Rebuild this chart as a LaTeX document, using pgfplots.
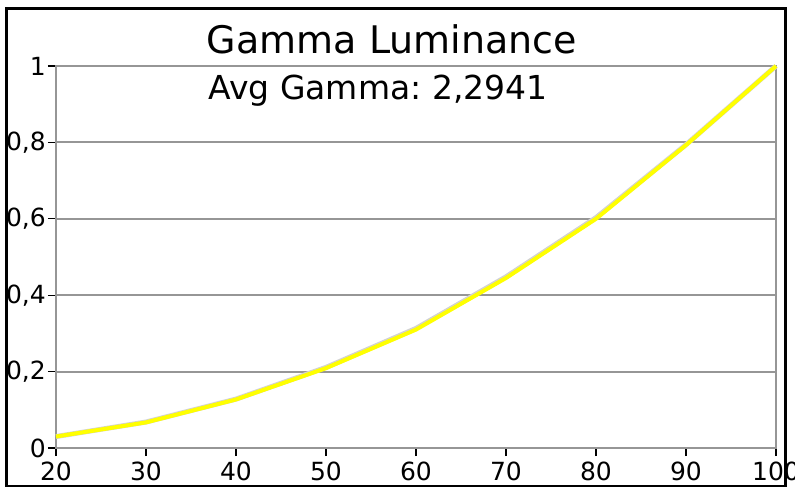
\documentclass[border=0pt]{standalone}
\usepackage{pgfplots}
\pgfplotsset{compat=1.18}
\usepackage{fontspec}
\setmainfont{DejaVu Sans}
\frenchspacing
\definecolor{axgray}{RGB}{150,150,150}
\definecolor{refgray}{RGB}{210,210,210}
\definecolor{lumyellow}{RGB}{255,255,0}

\begin{document}
\begin{tikzpicture}
\path[use as bounding box] (-56bp,-39bp) rectangle (739bp,448bp);
\begin{axis}[
  scale only axis,
  width=720bp, height=382bp,
  xmin=20, xmax=100,
  ymin=0, ymax=1,
  xtick={20,30,40,50,60,70,80,90,100},
  ytick={0,0.2,0.4,0.6,0.8,1},
  /pgf/number format/use comma,
  /pgf/number format/assume math mode=true,
  tick pos=left,
  tick align=outside,
  major tick length=8bp,
  tick style={black, line width=1.2bp},
  axis line style={axgray, line width=2bp},
  ymajorgrids,
  major grid style={axgray, line width=2bp},
  tick label style={font=\fontsize{25bp}{29bp}\selectfont, inner sep=0pt},
  yticklabel style={xshift=-2bp},
  xticklabel style={yshift=-6bp},
  clip=false,
]
\addplot[refgray, line width=5bp, line join=round]
  coordinates {(20,0.030) (30,0.068) (40,0.128) (50,0.211) (60,0.313) (70,0.448) (80,0.603) (90,0.794) (100,1)};
\addplot[lumyellow, line width=4bp, line join=round]
  coordinates {(20,0.030) (30,0.067) (40,0.127) (50,0.209) (60,0.310) (70,0.445) (80,0.600) (90,0.793) (100,1)};
\end{axis}
\node[anchor=base, font=\fontsize{38bp}{42bp}\selectfont] at (336bp,394bp) {Gamma Luminance};
\node[anchor=base, font=\fontsize{33bp}{37bp}\selectfont] at (322bp,348bp) {Avg Gamma: 2,2941};
\draw[black, line width=3bp] (-49bp,-38bp) rectangle (729bp,439bp);
\end{tikzpicture}
\end{document}
